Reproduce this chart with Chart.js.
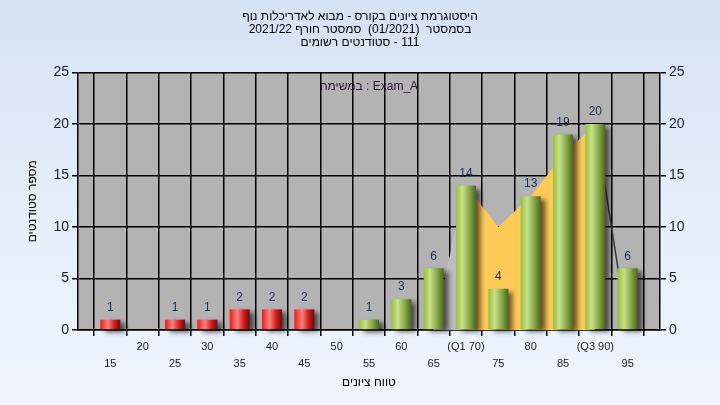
<!DOCTYPE html>
<html>
<head>
<meta charset="utf-8">
<script src="https://cdn.jsdelivr.net/npm/chart.js@4"></script>
<style>
html,body{margin:0;padding:0;}
body{width:720px;height:405px;background:linear-gradient(180deg,#d4e2f4 0%,#e6effa 55%,#eef5fd 100%);overflow:hidden;}
#wrap{width:720px;height:405px;position:relative;}
</style>
</head>
<body>
<div id="wrap"><canvas id="c" width="720" height="405"></canvas></div>
<script>
// ---- data ----
const grades = [15, 20, 25, 30, 35, 40, 45, 50, 55, 60, 65, 70, 75, 80, 85, 90, 95];
const counts = [1, 0, 1, 1, 2, 2, 2, 0, 1, 3, 6, 14, 4, 13, 19, 20, 6];
const curveGrades = [65, 70, 75, 80, 85, 90, 95];
const curveValues = [0, 14, 10, 13, 17, 20, 0];
const yTickValues = [0, 5, 10, 15, 20, 25];
const q1Grade = 70;
const q3Grade = 90;
const passGrade = 55;
const q1Label = '(Q1 70)';
const q3Label = '(Q3 90)';
const LRM = '\u200E';
const titleLines = [
  'היסטוגרמת ציונים בקורס - מבוא לאדריכלות נוף',
  'בסמסטר  (01/2021)  סמסטר חורף 2021/22',
  'סטודנטים רשומים' + LRM + ' - 111'
];
const xAxisTitle = 'טווח ציונים';
const yAxisTitle = 'מספר סטודנטים';
const examLabel = 'במשימה : Exam_A';

const FONT = '"Liberation Sans", Arial, "DejaVu Sans", sans-serif';
const barFraction = 0.62;

function barFill(c) {
  if (c.type !== 'data' || !c.raw) return '#9cc04c';
  const red = c.raw.x < passGrade;
  const chart = c.chart, xs = chart.scales.x;
  if (!xs || !chart.chartArea) return red ? '#e52020' : '#9cc04c';
  const cx = xs.getPixelForValue(c.raw.x);
  const step = Math.abs(xs.getPixelForValue(c.raw.x + 5) - cx);
  const half = step * barFraction / 2;
  const g = chart.ctx.createLinearGradient(cx - half, 0, cx + half, 0);
  if (red) {
    g.addColorStop(0, '#f01818');
    g.addColorStop(0.38, '#ff8282');
    g.addColorStop(0.7, '#d21e1e');
    g.addColorStop(1, '#6a0c0c');
  } else {
    g.addColorStop(0, '#97bf3e');
    g.addColorStop(0.32, '#c8e08a');
    g.addColorStop(0.68, '#86a646');
    g.addColorStop(1, '#4b6620');
  }
  return g;
}

const barData = grades.map((g, i) => ({ x: g, y: counts[i] }));
const curvePts = curveGrades.map((g, i) => ({ x: g, y: curveValues[i] }));
const curveLeft = curvePts.filter(p => p.x <= q1Grade);
const curveMid = curvePts.filter(p => p.x >= q1Grade && p.x <= q3Grade);
const curveRight = curvePts.filter(p => p.x >= q3Grade);

function xLabel(v) {
  if (v === q1Grade) return [q1Label];
  if (v === q3Grade) return [q3Label];
  if (v <= 10 || v >= 100) return '';
  if (v % 10 === 0) return [String(v)];
  return ['', String(v)];
}

const plotBg = {
  id: 'plotBg',
  beforeDraw(chart) {
    const { ctx, chartArea: a } = chart;
    ctx.save();
    ctx.fillStyle = '#b3b3b3';
    ctx.fillRect(a.left, a.top, a.right - a.left, a.bottom - a.top);
    ctx.restore();
  }
};

const barShadow = {
  id: 'barShadow',
  beforeDatasetDraw(chart, args) {
    if (args.meta.type !== 'bar') return;
    const ctx = chart.ctx;
    ctx.save();
    ctx.shadowColor = 'rgba(0,0,0,0.6)';
    ctx.shadowBlur = 5;
    ctx.shadowOffsetX = 5;
    ctx.shadowOffsetY = 3;
  },
  afterDatasetDraw(chart, args) {
    if (args.meta.type !== 'bar') return;
    chart.ctx.restore();
  }
};

const extraText = {
  id: 'extraText',
  afterDatasetsDraw(chart) {
    const ctx = chart.ctx;
    const a = chart.chartArea;
    ctx.save();
    chart.data.datasets.forEach((ds, di) => {
      const meta = chart.getDatasetMeta(di);
      if (meta.type !== 'bar') return;
      ctx.font = '12px ' + FONT;
      ctx.fillStyle = '#1d2b55';
      ctx.textAlign = 'center';
      ctx.textBaseline = 'middle';
      meta.data.forEach((el, i) => {
        const v = ds.data[i].y;
        if (!v) return;
        ctx.fillText(String(v), el.x, el.y - 12);
      });
    });
    ctx.font = '12px ' + FONT;
    ctx.fillStyle = '#2a1630';
    ctx.textAlign = 'center';
    ctx.textBaseline = 'middle';
    ctx.fillText(examLabel, (a.left + a.right) / 2, a.top + 14);
    ctx.translate(33, (a.top + a.bottom) / 2);
    ctx.rotate(-Math.PI / 2);
    ctx.fillStyle = '#000';
    ctx.fillText(yAxisTitle, 0, 0);
    ctx.restore();
  }
};

const yTickOpts = {
  font: { family: FONT, size: 14 },
  color: '#1b1b33',
  padding: 3,
  stepSize: 5,
  callback: v => yTickValues.includes(v) ? String(v) : ''
};

new Chart(document.getElementById('c'), {
  data: {
    datasets: [
      {
        type: 'bar', data: barData, order: 0,
        backgroundColor: barFill, borderWidth: 0,
        barPercentage: barFraction, categoryPercentage: 1,
        clip: false
      },
      {
        type: 'line', data: curveLeft, order: 1,
        fill: 'origin', backgroundColor: '#bdbdbd',
        borderColor: '#c6c6c6', borderWidth: 1, pointRadius: 0, tension: 0
      },
      {
        type: 'line', data: curveMid, order: 2,
        fill: 'origin', backgroundColor: '#ffca58',
        borderColor: '#ffca58', borderWidth: 0, pointRadius: 0, tension: 0
      },
      {
        type: 'line', data: curveRight, order: 3,
        fill: false, borderColor: '#3a3a3a', borderWidth: 1.5, pointRadius: 0, tension: 0
      }
    ]
  },
  options: {
    responsive: false,
    animation: false,
    events: [],
    layout: { padding: { left: 0, right: 0, top: 0, bottom: 15 } },
    plugins: {
      legend: { display: false },
      tooltip: { enabled: false },
      title: {
        display: true,
        text: titleLines,
        font: { family: FONT, size: 12, weight: 'normal', lineHeight: 1.1 },
        color: '#000',
        padding: { top: 10, bottom: 23 }
      }
    },
    scales: {
      x: {
        type: 'linear', min: 10, max: 100, offset: false,
        grid: { color: '#000', lineWidth: 1.5, tickColor: '#000', tickLength: 6, drawOnChartArea: true },
        border: { color: '#000', width: 1.5 },
        ticks: {
          stepSize: 5, autoSkip: false, maxRotation: 0, minRotation: 0,
          font: { family: FONT, size: 11, lineHeight: 1.5 },
          color: '#1e1e1e', padding: 3,
          callback: xLabel
        },
        title: {
          display: true, text: xAxisTitle,
          font: { family: FONT, size: 12 }, color: '#000',
          padding: { top: 2, bottom: 0 }
        },
        afterFit: s => { s.height = 60; }
      },
      y: {
        type: 'linear', position: 'left', min: 0, max: 25,
        grid: { color: '#000', lineWidth: 1.5, tickColor: '#000', tickLength: 6 },
        border: { color: '#000', width: 1.5 },
        ticks: yTickOpts,
        afterFit: s => { s.width = 78; }
      },
      y2: {
        type: 'linear', position: 'right', min: 0, max: 25,
        grid: { drawOnChartArea: false, color: '#000', tickColor: '#000', tickLength: 6, lineWidth: 1.5 },
        border: { color: '#000', width: 1.5 },
        ticks: yTickOpts,
        afterFit: s => { s.width = 60; }
      }
    }
  },
  plugins: [plotBg, barShadow, extraText]
});
</script>
</body>
</html>
